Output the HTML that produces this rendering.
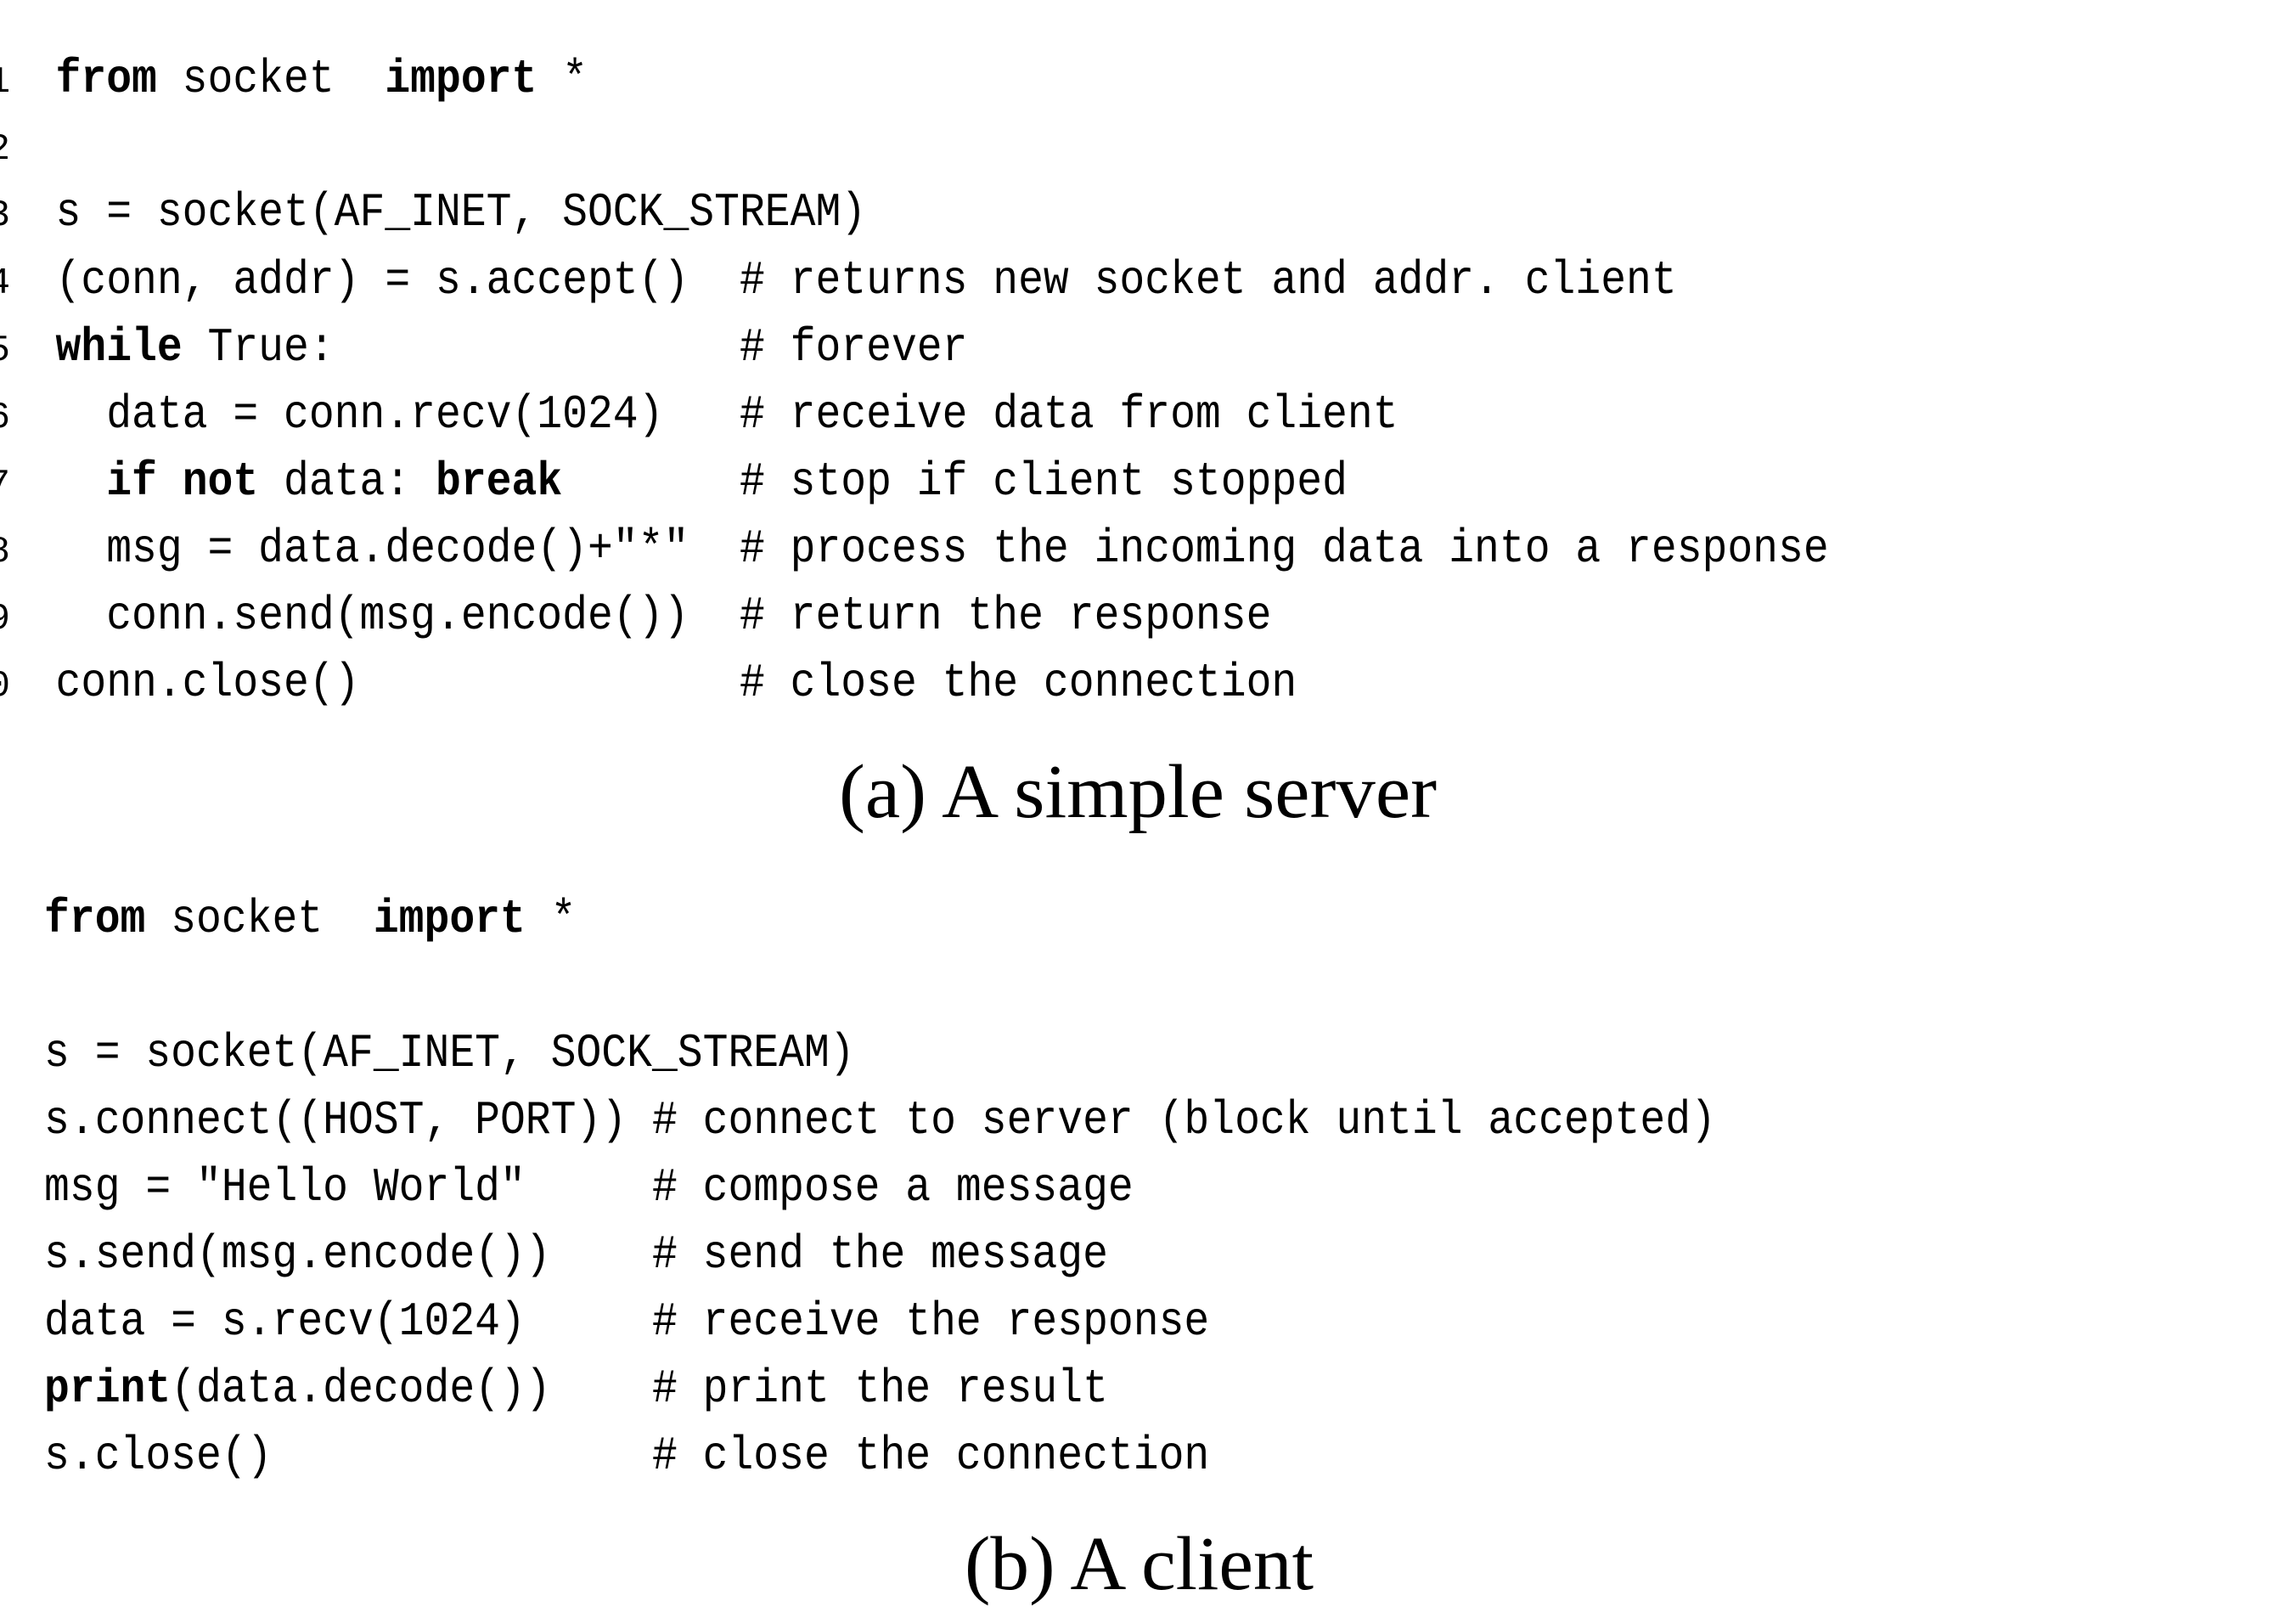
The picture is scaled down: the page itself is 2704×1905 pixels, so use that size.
<!DOCTYPE html>
<html><head><style>
html,body{margin:0;padding:0;background:#fff;}
svg{display:block;}
text{white-space:pre;}
.m{font-family:"Liberation Mono",monospace;font-size:56px;fill:#000;}
.n{font-family:"Liberation Mono",monospace;font-size:44px;fill:#000;}
.c{font-family:"Liberation Serif",serif;font-size:90px;fill:#000;}
</style></head><body>
<svg width="2704" height="1905" viewBox="0 0 2704 1905" xmlns="http://www.w3.org/2000/svg" xml:space="preserve">
<g class="n" text-anchor="end">
<text x="12" y="108">1</text><text x="12" y="187">2</text><text x="12" y="265">3</text><text x="12" y="345">4</text><text x="12" y="424">5</text><text x="12" y="503">6</text><text x="12" y="582">7</text><text x="12" y="661">8</text><text x="12" y="740">9</text><text x="12" y="819">10</text>
<text x="0" y="1176">2</text><text x="0" y="1334">4</text><text x="0" y="1413">5</text><text x="0" y="1492">6</text><text x="0" y="1571">7</text><text x="0" y="1650">8</text><text x="0" y="1729">9</text>
</g>
<g class="m" transform="scale(0.888,1)">
<text x="73.8" y="108"><tspan font-weight="bold">from</tspan> socket  <tspan font-weight="bold">import</tspan> *</text>
<text x="73.8" y="265">s = socket(AF_INET, SOCK_STREAM)</text>
<text x="73.8" y="345">(conn, addr) = s.accept()  # returns new socket and addr. client</text>
<text x="73.8" y="424"><tspan font-weight="bold">while</tspan> True:                # forever</text>
<text x="73.8" y="503">  data = conn.recv(1024)   # receive data from client</text>
<text x="73.8" y="582">  <tspan font-weight="bold">if not</tspan> data: <tspan font-weight="bold">break</tspan>       # stop if client stopped</text>
<text x="73.8" y="661">  msg = data.decode()+"*"  # process the incoming data into a response</text>
<text x="73.8" y="740">  conn.send(msg.encode())  # return the response</text>
<text x="73.8" y="819">conn.close()               # close the connection</text>

<text x="58.6" y="1097"><tspan font-weight="bold">from</tspan> socket  <tspan font-weight="bold">import</tspan> *</text>
<text x="58.6" y="1255">s = socket(AF_INET, SOCK_STREAM)</text>
<text x="58.6" y="1334">s.connect((HOST, PORT)) # connect to server (block until accepted)</text>
<text x="58.6" y="1413">msg = "Hello World"     # compose a message</text>
<text x="58.6" y="1492">s.send(msg.encode())    # send the message</text>
<text x="58.6" y="1571">data = s.recv(1024)     # receive the response</text>
<text x="58.6" y="1650"><tspan font-weight="bold">print</tspan>(data.decode())    # print the result</text>
<text x="58.6" y="1729">s.close()               # close the connection</text>
</g>
<text class="c" x="988" y="962" textLength="704" lengthAdjust="spacingAndGlyphs">(a) A simple server</text>
<text class="c" x="1136" y="1871" textLength="411" lengthAdjust="spacingAndGlyphs">(b) A client</text>
</svg>
</body></html>
